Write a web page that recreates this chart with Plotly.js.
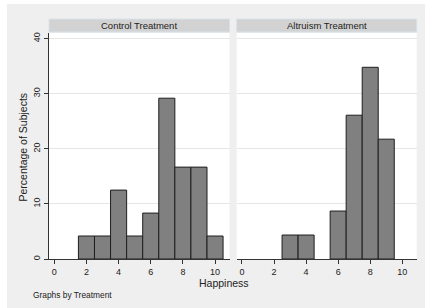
<!DOCTYPE html>
<html>
<head>
<meta charset="utf-8">
<script src="https://cdn.plot.ly/plotly-3.0.1.min.js"></script>
<style>
html,body{margin:0;padding:0;background:#ffffff;}
#chart{width:425px;height:308px;}
</style>
</head>
<body>
<div id="chart"></div>
<script>
// Data
const panelTitles = ["Control Treatment", "Altruism Treatment"];
const controlHappiness = [2, 3, 4, 5, 6, 7, 8, 9, 10];
const controlPercent = [4.17, 4.17, 12.5, 4.17, 8.33, 29.17, 16.67, 16.67, 4.17];
const altruismHappiness = [3, 4, 6, 7, 8, 9];
const altruismPercent = [4.35, 4.35, 8.70, 26.09, 34.78, 21.74];
const xTickVals = [0, 2, 4, 6, 8, 10];
const yTickVals = [0, 10, 20, 30, 40];
const xTitle = "Happiness";
const yTitle = "Percentage of Subjects";
const note = "Graphs by Treatment";

const W = 425, H = 308;
const px = v => v / W;
const py = v => 1 - v / H;

const barStyle = {color: "#808080", line: {color: "#1e1e1e", width: 1}};
const font = "Liberation Sans, Arial, Helvetica, sans-serif";

const traces = [
  {type: "bar", x: controlHappiness, y: controlPercent, width: 1,
   marker: barStyle, xaxis: "x", yaxis: "y", hoverinfo: "x+y", showlegend: false},
  {type: "bar", x: altruismHappiness, y: altruismPercent, width: 1,
   marker: barStyle, xaxis: "x2", yaxis: "y2", hoverinfo: "x+y", showlegend: false}
];

const xRange = [-0.33, 10.9];
const yRange = [0, 41];
const leftDom = [px(49), px(229.5)];
const rightDom = [px(236.7), px(416.7)];
const yDom = [py(259), py(33)];

const xCommon = {
  range: xRange, tickvals: xTickVals, ticks: "outside", ticklen: 4, tickwidth: 1,
  tickcolor: "#333", showline: true, linecolor: "#333", linewidth: 1,
  showgrid: false, zeroline: false, tickfont: {size: 9, color: "#222", family: font},
  fixedrange: true
};
const yCommon = {
  range: yRange, tickvals: yTickVals, domain: yDom, showgrid: true,
  gridcolor: "#e6e6e6", gridwidth: 1, zeroline: false, fixedrange: true
};

const layout = {
  width: W, height: H,
  margin: {l: 0, r: 0, t: 0, b: 0},
  paper_bgcolor: "#efefef",
  plot_bgcolor: "#ffffff",
  bargap: 0,
  font: {family: font, color: "#222"},
  xaxis: Object.assign({}, xCommon, {domain: leftDom, anchor: "y"}),
  xaxis2: Object.assign({}, xCommon, {domain: rightDom, anchor: "y2"}),
  yaxis: Object.assign({}, yCommon, {
    anchor: "x", ticks: "outside", ticklen: 4, tickwidth: 1, tickcolor: "#333",
    showline: true, linecolor: "#333", linewidth: 1, tickangle: -90,
    tickfont: {size: 9, color: "#222", family: font}
  }),
  yaxis2: Object.assign({}, yCommon, {
    anchor: "x2", showticklabels: false, ticks: "", showline: false
  }),
  shapes: [
    // white outer border (top and left)
    {type: "rect", xref: "paper", yref: "paper", x0: 0, x1: 1, y0: py(4), y1: 1,
     fillcolor: "#ffffff", line: {width: 0}, layer: "below"},
    {type: "rect", xref: "paper", yref: "paper", x0: 0, x1: px(7), y0: 0, y1: 1,
     fillcolor: "#ffffff", line: {width: 0}, layer: "below"},
    // strip headers
    {type: "rect", xref: "paper", yref: "paper", x0: leftDom[0], x1: leftDom[1],
     y0: py(32), y1: py(19), fillcolor: "#d2d2d2", line: {color: "#d6e2ea", width: 1}},
    {type: "rect", xref: "paper", yref: "paper", x0: rightDom[0], x1: rightDom[1],
     y0: py(32), y1: py(19), fillcolor: "#d2d2d2", line: {color: "#d6e2ea", width: 1}}
  ],
  annotations: [
    {text: panelTitles[0], xref: "paper", yref: "paper",
     x: (leftDom[0] + leftDom[1]) / 2, y: py(25.5), showarrow: false,
     xanchor: "center", yanchor: "middle", font: {size: 9.5, color: "#222", family: font}},
    {text: panelTitles[1], xref: "paper", yref: "paper",
     x: (rightDom[0] + rightDom[1]) / 2, y: py(25.5), showarrow: false,
     xanchor: "center", yanchor: "middle", font: {size: 9.5, color: "#222", family: font}},
    {text: xTitle, xref: "paper", yref: "paper", x: px(224.5), y: py(283),
     showarrow: false, xanchor: "center", yanchor: "middle",
     font: {size: 10.5, color: "#222", family: font}},
    {text: yTitle, xref: "paper", yref: "paper", x: px(22), y: py(147.5),
     showarrow: false, xanchor: "center", yanchor: "middle", textangle: -90,
     font: {size: 10.5, color: "#222", family: font}},
    {text: note, xref: "paper", yref: "paper", x: px(31), y: py(295),
     showarrow: false, xanchor: "left", yanchor: "middle",
     font: {size: 8.4, color: "#222", family: font}}
  ]
};

Plotly.newPlot("chart", traces, layout, {displayModeBar: false, staticPlot: true});
</script>
</body>
</html>
